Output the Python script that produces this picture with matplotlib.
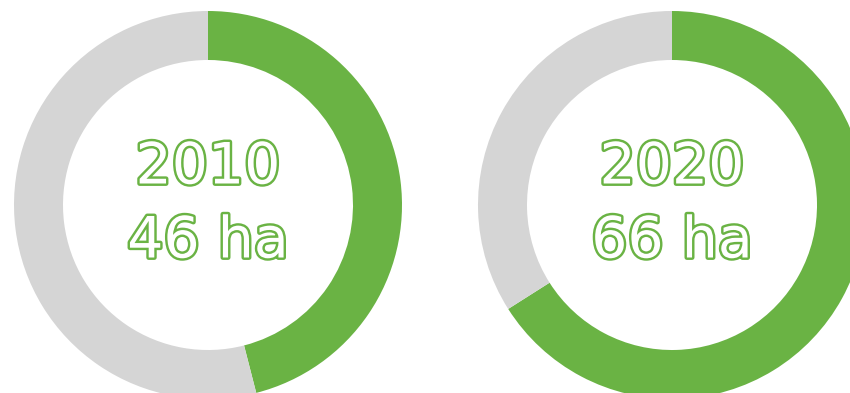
import matplotlib
matplotlib.use("Agg")
import matplotlib.pyplot as plt
import matplotlib.patheffects as pe

years = ["2010", "2020"]
areas_ha = [46, 66]
totals = [100, 100]

green = "#6ab344"
grey = "#d5d5d5"

fig = plt.figure(figsize=(8.5, 3.93), dpi=100)
ax = fig.add_axes([0, 0, 1, 1])

centers = [(208, 188), (672, 188)]
outer = 194
ring = 49

for (cx, cy), year, ha, tot in zip(centers, years, areas_ha, totals):
    ax.pie([ha, tot - ha], colors=[green, grey], startangle=90, counterclock=False,
           center=(cx, cy), radius=outer, frame=True,
           wedgeprops=dict(width=ring, edgecolor="none"))
    for txt, dy in [(year, 37), (f"{ha} ha", -37)]:
        ax.text(cx, cy + dy, txt, ha="center", va="center", fontsize=41,
                family="DejaVu Sans", color="white",
                path_effects=[pe.withStroke(linewidth=3.5, foreground=green)])

ax.set_xlim(0, 850)
ax.set_ylim(0, 393)
ax.set_aspect("equal")
ax.axis("off")

fig.savefig("out.png", dpi=100)
